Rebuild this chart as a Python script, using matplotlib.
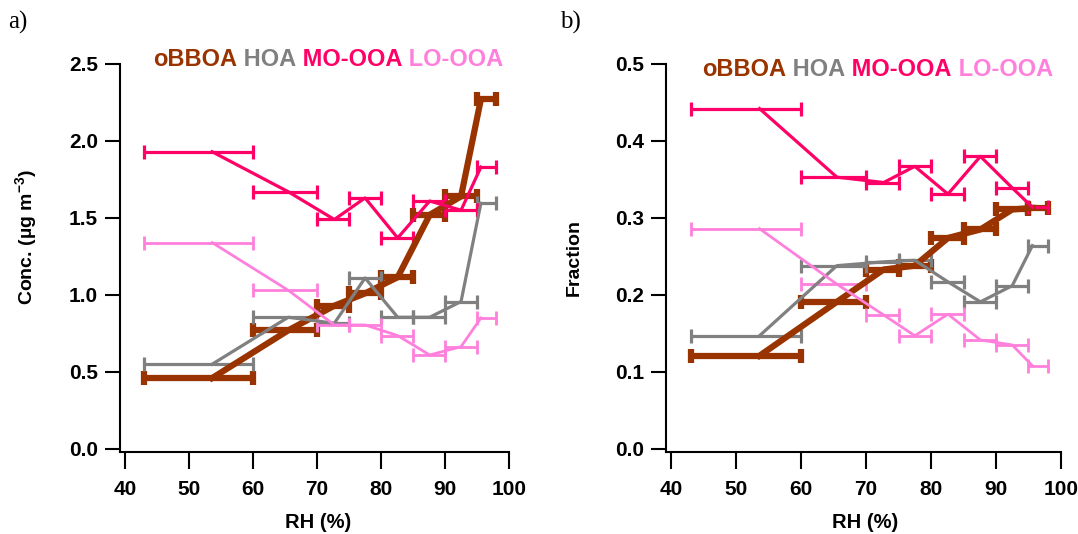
import numpy as np
import matplotlib
matplotlib.use("Agg")
import matplotlib.pyplot as plt

plt.rcParams['font.family'] = ['Liberation Sans', 'DejaVu Sans']
plt.rcParams['font.weight'] = 'bold'
plt.rcParams['mathtext.fontset'] = 'custom'
plt.rcParams['mathtext.rm'] = 'Liberation Sans:bold'
plt.rcParams['mathtext.bf'] = 'Liberation Sans:bold'

# RH bins (mean RH and bin edges)
rh_mean = [53.6, 65.5, 72.7, 77.5, 82.6, 87.6, 92.5, 95.6]
rh_lo = [43, 60, 70, 75, 80, 85, 90, 95]
rh_hi = [60, 70, 75, 80, 85, 90, 95, 98]

# a) concentration (ug m-3)
conc_obboa = [0.46, 0.77, 0.93, 1.01, 1.115, 1.52, 1.64, 2.27]
conc_hoa = [0.55, 0.855, 0.816, 1.11, 0.855, 0.855, 0.957, 1.595]
conc_moooa = [1.93, 1.67, 1.49, 1.63, 1.37, 1.61, 1.55, 1.83]
conc_loooa = [1.34, 1.03, 0.805, 0.805, 0.736, 0.61, 0.664, 0.85]

# b) fraction
frac_obboa = [0.121, 0.191, 0.233, 0.238, 0.274, 0.285, 0.311, 0.313]
frac_hoa = [0.147, 0.238, 0.243, 0.245, 0.217, 0.191, 0.212, 0.264]
frac_moooa = [0.442, 0.353, 0.346, 0.367, 0.331, 0.380, 0.339, 0.314]
frac_loooa = [0.286, 0.214, 0.174, 0.147, 0.175, 0.1415, 0.135, 0.108]

names = ['oBBOA', 'HOA', 'MO-OOA', 'LO-OOA']
colors = ['#993300', '#808080', '#FF0066', '#FF80DC']
widths = [4.5, 2.3, 2.3, 2.0]

x = np.array(rh_mean)
xerr = np.array([x - np.array(rh_lo), np.array(rh_hi) - x])

fig = plt.figure(figsize=(10.78, 5.34), dpi=100)
ax_a = fig.add_axes([0.1113, 0.1536, 0.3609, 0.7266])
ax_b = fig.add_axes([0.6178, 0.1536, 0.3664, 0.7266])


def draw_panel(ax, series, ylim, yticks, ylabel, label_pos, legend_xy):
    for vals, c, w in zip(series, colors, widths):
        ax.errorbar(x, vals, xerr=xerr, fmt='-', color=c, lw=w,
                    elinewidth=w, capsize=4.8, capthick=w)
    ax.set_xlim(39.2, 100)
    ax.set_ylim(*ylim)
    ax.set_xticks([40, 50, 60, 70, 80, 90, 100])
    ax.set_yticks(yticks)
    ax.yaxis.set_major_formatter(plt.FormatStrFormatter('%.1f'))
    for s in ['top', 'right']:
        ax.spines[s].set_visible(False)
    for s in ['left', 'bottom']:
        ax.spines[s].set_linewidth(1.5)
    ax.tick_params(axis='x', direction='out', length=12, width=1.5,
                   pad=8, labelsize=15)
    ax.tick_params(axis='y', direction='out', length=11, width=1.5,
                   pad=5, labelsize=15)
    ax.set_xlabel('RH (%)', fontsize=14.5, fontweight='bold')
    ax.set_ylabel(ylabel, fontsize=14, fontweight='bold')
    ax.xaxis.set_label_coords(label_pos[0], -0.158)
    ax.yaxis.set_label_coords(label_pos[1], label_pos[2])
    # coloured legend text
    t = ax.text(legend_xy[0], legend_xy[1], names[0], color=colors[0],
                transform=fig.transFigure, fontsize=17, fontweight='bold',
                va='center', ha='left')
    for n, c in zip(names[1:], colors[1:]):
        t = ax.annotate(' ' + n, xy=(1, 0), xycoords=t, va='bottom',
                        ha='left', color=c, fontsize=17, fontweight='bold')


draw_panel(ax_a, [conc_obboa, conc_hoa, conc_moooa, conc_loooa],
           (-0.02, 2.5), [0.0, 0.5, 1.0, 1.5, 2.0, 2.5],
           r'Conc. (µg m$^{-3}$)', (0.509, -0.205, 0.554),
           (153 / 1078, 1 - 60 / 534))
draw_panel(ax_b, [frac_obboa, frac_hoa, frac_moooa, frac_loooa],
           (-0.004, 0.5), [0.0, 0.1, 0.2, 0.3, 0.4, 0.5],
           'Fraction', (0.504, -0.21, 0.5),
           (702 / 1078, 1 - 69 / 534))

fig.text(8 / 1078, 1 - 22 / 534, 'a)', family='Liberation Serif',
         fontweight='normal', fontsize=18, va='center', ha='left')
fig.text(560 / 1078, 1 - 22 / 534, 'b)', family='Liberation Serif',
         fontweight='normal', fontsize=18, va='center', ha='left')

fig.savefig('out.png', dpi=100)
